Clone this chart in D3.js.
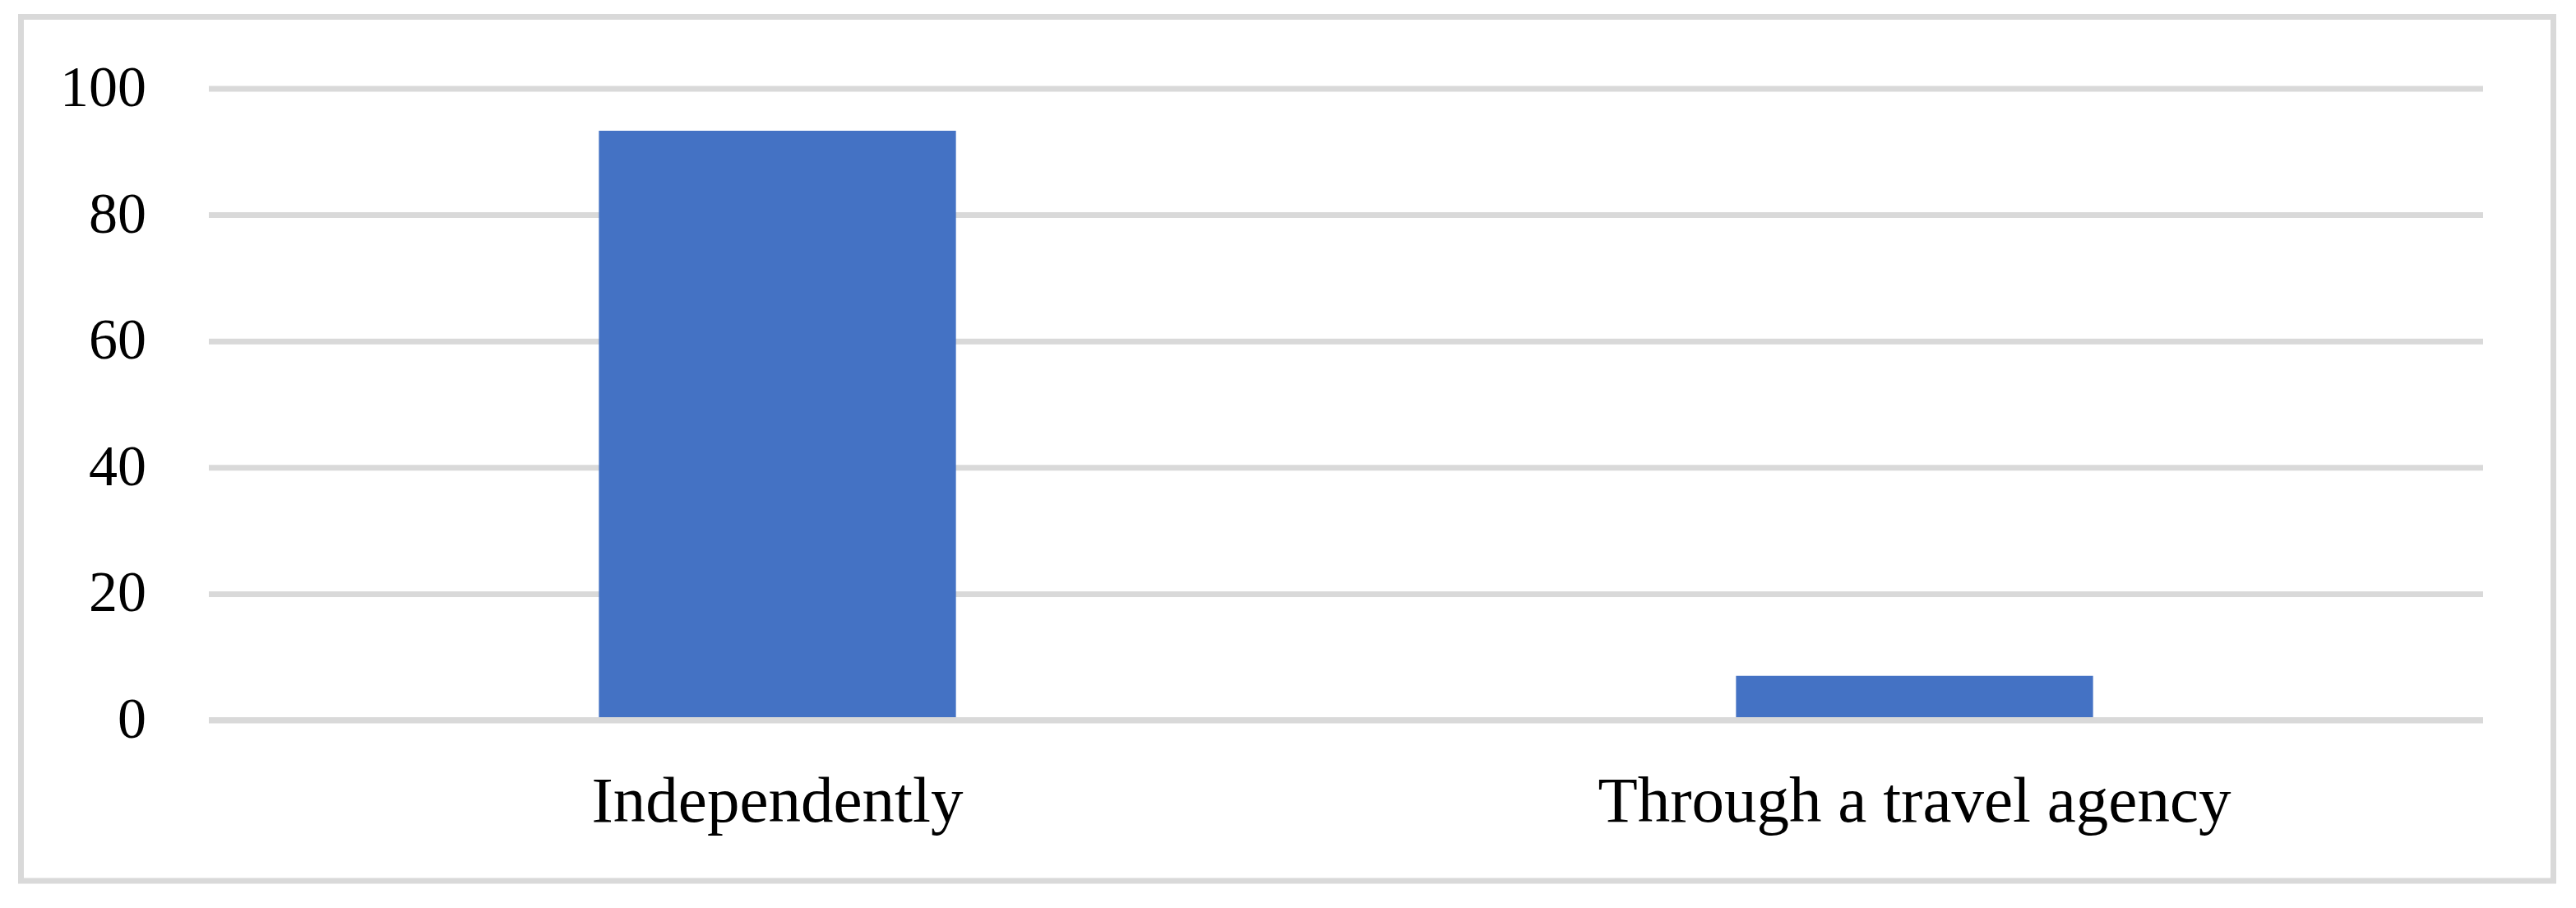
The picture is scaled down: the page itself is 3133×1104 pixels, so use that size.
<!DOCTYPE html>
<html>
<head>
<meta charset="utf-8">
<script src="https://cdn.jsdelivr.net/npm/d3@7"></script>
<style>
  html, body { margin: 0; padding: 0; background: #fff; }
  svg { display: block; }
  .axis text { font-family: "Palatino Linotype", "Book Antiqua", Palatino, "Liberation Serif", serif; fill: #000; }
</style>
</head>
<body>
<script>
// data
var categories = ["Independently", "Through a travel agency"];
var values     = [93.3, 7.0];
var yTicks     = [0, 20, 40, 60, 80, 100];

var W = 3133, H = 1104;
var plot = {left: 254, right: 3020, top: 107.5, bottom: 875.5};
var grid = "#d9d9d9", barColor = "#4472c4";

var svg = d3.select("body").append("svg")
  .attr("width", W).attr("height", H);

svg.append("rect").attr("width", W).attr("height", H).attr("fill", "#fff");

// chart frame
svg.append("rect")
  .attr("x", 25.5).attr("y", 20.5)
  .attr("width", 3080).attr("height", 1050.5)
  .attr("fill", "none").attr("stroke", grid).attr("stroke-width", 7);

var x = d3.scaleBand().domain(categories)
  .range([plot.left, plot.right])
  .paddingInner(0.686).paddingOuter(0.343);

var y = d3.scaleLinear().domain([0, 100]).range([plot.bottom, plot.top]);

// gridlines + tick labels
var yAxis = svg.append("g")
  .attr("class", "axis")
  .attr("transform", "translate(" + plot.left + ",0)")
  .call(d3.axisLeft(y).tickValues(yTicks)
    .tickSizeInner(-(plot.right - plot.left)).tickSizeOuter(0).tickPadding(76));
yAxis.select(".domain").remove();
yAxis.selectAll(".tick line").attr("stroke", grid).attr("stroke-width", 7);
yAxis.selectAll(".tick text")
  .attr("dy", "0.3em")
  .style("font-size", "70px");

// bars
svg.append("g").selectAll("rect")
  .data(values)
  .join("rect")
  .attr("x", function(d, i) { return x(categories[i]); })
  .attr("width", x.bandwidth())
  .attr("y", function(d) { return y(d); })
  .attr("height", function(d) { return y(0) - y(d); })
  .attr("fill", barColor);

// baseline on top of bars
svg.append("line")
  .attr("x1", plot.left).attr("x2", plot.right)
  .attr("y1", y(0)).attr("y2", y(0))
  .attr("stroke", grid).attr("stroke-width", 7);

// category labels
var xAxis = svg.append("g")
  .attr("class", "axis")
  .attr("transform", "translate(0," + plot.bottom + ")")
  .call(d3.axisBottom(x).tickSize(0).tickPadding(0));
xAxis.select(".domain").remove();
xAxis.selectAll(".tick text")
  .attr("y", 123.5).attr("dy", 0)
  .style("font-size", "79px");
</script>
</body>
</html>
